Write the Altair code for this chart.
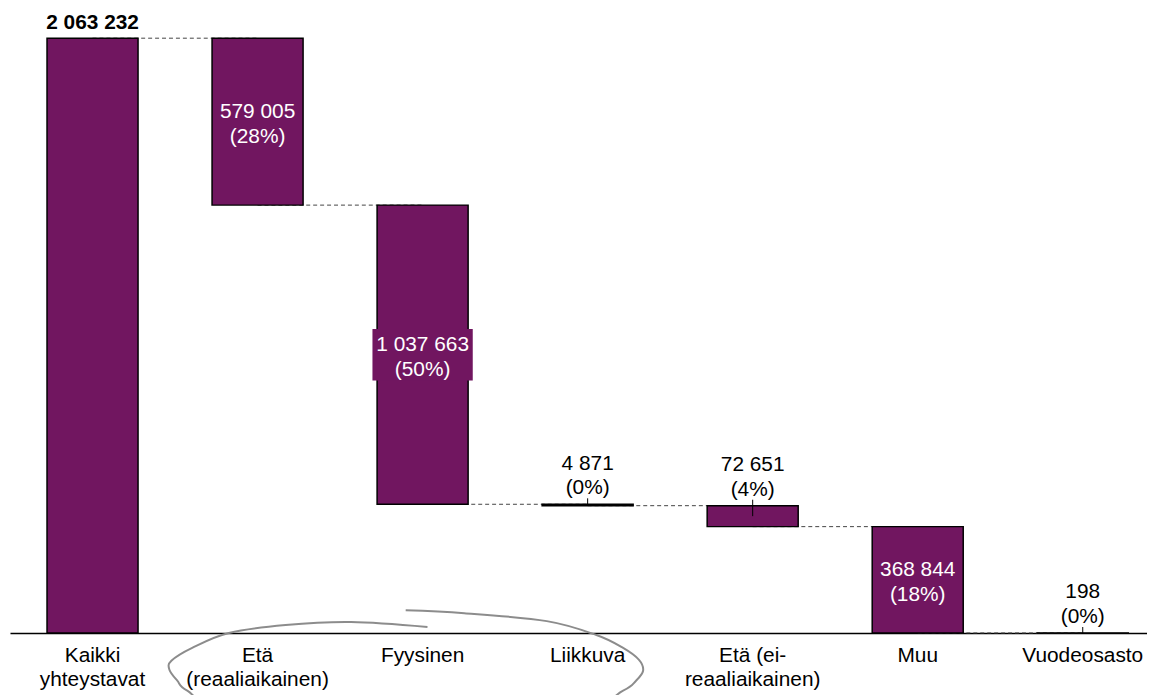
import altair as alt
import pandas as pd

# ---- data ----
categories = ["Kaikki\nyhteystavat", "Etä\n(reaaliaikainen)", "Fyysinen", "Liikkuva",
              "Etä (ei-\nreaaliaikainen)", "Muu", "Vuodeosasto"]
values = [2063232, 579005, 1037663, 4871, 72651, 368844, 198]
percents = [None, 28, 50, 0, 4, 18, 0]
label_inside = [False, True, True, False, False, True, False]
label_box = [False, False, True, False, False, False, False]

# hand-drawn oval annotation around three axis labels
# (x in category-index units, y in value units, drawing order)
ell_x = [2.048, 1.582, 1.182, 0.836, 0.612, 0.485, 0.473, 0.521, 0.582, 0.836, 1.867,
         2.958, 3.242, 3.321, 3.364, 3.339, 3.242, 3.079, 2.776, 2.273, 1.915]
ell_y = [20667, 37889, 27556, 0, -51667, -96445, -127445, -165334, -199778, -265223, -310000,
         -265223, -199778, -165334, -130889, -93000, -51667, -6889, 41333, 68889, 79222]

PURPLE = "#711660"
FONT = "Liberation Sans"
FS = 21

rows = []
level = values[0]
for i, (c, v, p, ins, box) in enumerate(zip(categories, values, percents, label_inside, label_box)):
    if i == 0:
        top, bottom = v, 0
    else:
        top, bottom = level, level - v
        level = bottom
    num = f"{v:,}".replace(",", " ")
    if i == 0:
        kind, text = "total", num
    else:
        kind = "inside" if ins else "above"
        text = f"{num}\n({p}%)"
    rows.append(dict(cat=c, top=top, bottom=bottom, mid=(top + bottom) / 2,
                     text=text, kind=kind, box=box))
df = pd.DataFrame(rows)

conn = pd.DataFrame([
    dict(cat=categories[i], cat2=categories[i + 1], level=rows[i + 1]["top"])
    for i in range(len(categories) - 1)
])

ell = pd.DataFrame({"ex": ell_x, "ey": ell_y, "o": list(range(len(ell_x)))})

ymax = 2159672
yscale = alt.Scale(domain=[0, ymax], nice=False, zero=True)
xscale = alt.Scale(domain=categories, paddingInner=0.4485, paddingOuter=0.169, align=0.664,
                   round=False)
xaxis = alt.Axis(title=None, labelExpr="split(datum.label, '\\n')", labelAngle=0,
                 ticks=False, tickSize=0, labelPadding=12, labelFontSize=FS, labelFont=FONT,
                 labelColor="black", labelLineHeight=24, domainColor="black", domainWidth=1.5,
                 grid=False, labelLimit=400, labelOverlap=False, labelFlush=False)
X = alt.X("cat:N", scale=xscale, axis=xaxis)

base = alt.Chart(df).encode(x=X)

connectors = alt.Chart(conn).mark_rule(color="#444444", strokeWidth=1, strokeDash=[4, 3]).encode(
    x=X, x2="cat2:N", y=alt.Y("level:Q", scale=yscale, axis=None)
)

bars = base.mark_bar(color=PURPLE, stroke="black", strokeWidth=1.5).encode(
    y=alt.Y("top:Q", scale=yscale, axis=None), y2="bottom:Q"
)

box = base.transform_filter("datum.box").mark_bar(
    color=PURPLE, width=101, yOffset=-26, y2Offset=26
).encode(y=alt.Y("mid:Q", scale=yscale, axis=None), y2="mid:Q")

leaders = base.transform_filter("datum.kind == 'above'").mark_rule(
    color="black", strokeWidth=1, y2Offset=-6
).encode(y=alt.Y("mid:Q", scale=yscale, axis=None), y2="top:Q")

t_total = base.transform_filter("datum.kind == 'total'").mark_text(
    font=FONT, fontSize=FS, fontWeight="bold", color="black", baseline="alphabetic", dy=-9
).encode(y=alt.Y("top:Q", scale=yscale, axis=None), text="text:N")

t_inside = base.transform_filter("datum.kind == 'inside'").mark_text(
    font=FONT, fontSize=FS, color="white", baseline="middle", lineBreak="\n", lineHeight=25,
    dy=-10
).encode(y=alt.Y("mid:Q", scale=yscale, axis=None), text="text:N")

t_above = base.transform_filter("datum.kind == 'above'").mark_text(
    font=FONT, fontSize=FS, color="black", baseline="alphabetic", lineBreak="\n", lineHeight=25,
    dy=-35
).encode(y=alt.Y("top:Q", scale=yscale, axis=None), text="text:N")

oval = alt.Chart(ell).mark_line(color="#8c8c8c", strokeWidth=2, interpolate="cardinal").encode(
    x=alt.X("ex:Q", scale=alt.Scale(domain=[-0.5, 6.4394], nice=False, zero=False), axis=None),
    y=alt.Y("ey:Q", scale=yscale, axis=None),
    order="o:Q",
)

main = alt.layer(connectors, bars, box, leaders, t_total, t_inside, t_above)
chart = alt.layer(main, oval).resolve_scale(x="independent").properties(
    width=1145, height=627,
    padding={"left": 2, "top": 0, "right": 0, "bottom": 60},
    autosize=alt.AutoSizeParams(type="none"),
    background="white",
).configure_view(stroke=None)

chart.save("out.html", embed_options={"renderer": "svg", "actions": False})
